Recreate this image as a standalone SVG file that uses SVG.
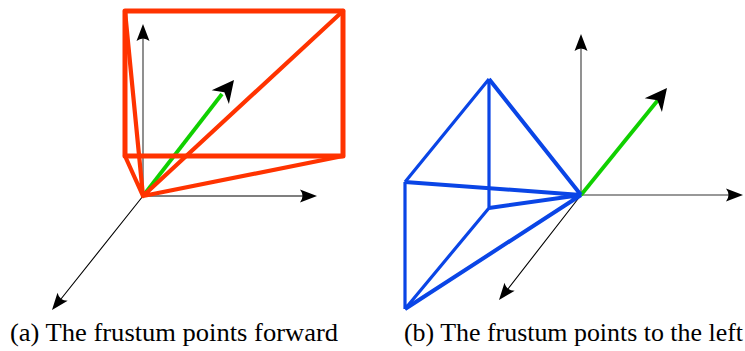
<svg xmlns="http://www.w3.org/2000/svg" width="745" height="351" viewBox="0 0 745 351">
<style>
.ax{fill:none;stroke-linecap:round}
.head{fill:#000;stroke:none}
.red{fill:none;stroke:#ff3300;stroke-linejoin:round;stroke-linecap:round}
.blue{fill:none;stroke:#0a45e6;stroke-linejoin:miter;stroke-linecap:butt}
.green{fill:none;stroke:#10d000;stroke-width:3.8}
text{font-family:"Liberation Serif","DejaVu Serif",serif;font-size:26px;fill:#000}
</style>
<defs>
<path id="h" d="M0 0L-17 -6.5Q-12 0 -17 6.5Z"/>
<path id="big" d="M0 0L-22 -11L-15.5 0L-22 11Z"/>
</defs>
<g id="connectors">
<g id="axes-a">
<path class="ax" stroke="#555" stroke-width="1.3" d="M143 196V30M143 196H310"/>
<path class="ax" stroke="#000" stroke-width="1.1" d="M143 196L57 304"/>
<use href="#h" class="head" transform="translate(143 24) rotate(-90)"/>
<use href="#h" class="head" transform="translate(317 196)"/>
<use href="#h" class="head" transform="translate(52 310) rotate(128.5)"/>
</g>
<g id="axes-b">
<path class="ax" stroke="#777" stroke-width="1.6" d="M581 195V40M581 195H737"/>
<path class="ax" stroke="#000" stroke-width="1.1" d="M581 195L504 294"/>
<use href="#h" class="head" transform="translate(581 34) rotate(-90)"/>
<use href="#h" class="head" transform="translate(743 195)"/>
<use href="#h" class="head" transform="translate(499 300) rotate(128.5)"/>
</g>
<g id="direction-a">
<path class="green" d="M143 196L222 94"/>
<use href="#big" class="head" transform="translate(234 80) rotate(-51.5)"/>
</g>
<g id="direction-b">
<path class="green" d="M581 195L658 100"/>
<use href="#big" class="head" transform="translate(667 88) rotate(-51.5)"/>
</g>
</g>
<g id="frustum-a">
<path class="red" stroke-width="4.2" d="M143 196L125 11M143 196L125 156M143 196L343 11M143 196L343 156"/>
<path class="red" stroke-width="5" d="M125 11H343V156H125Z"/>
</g>
<g id="frustum-b">
<path class="blue" stroke-width="3.2" d="M405 182L489 79M489 79V208M489 208L405 309M405 182V309"/>
<path class="blue" stroke-width="4" d="M489 79L581 195M405 182L581 195M489 208L581 195M405 309L581 195"/>
</g>
<g id="caption-a"><text x="10" y="341" textLength="328" lengthAdjust="spacingAndGlyphs">(a) The frustum points forward</text></g>
<g id="caption-b"><text x="404" y="341" textLength="339" lengthAdjust="spacingAndGlyphs">(b) The frustum points to the left</text></g>
</svg>
